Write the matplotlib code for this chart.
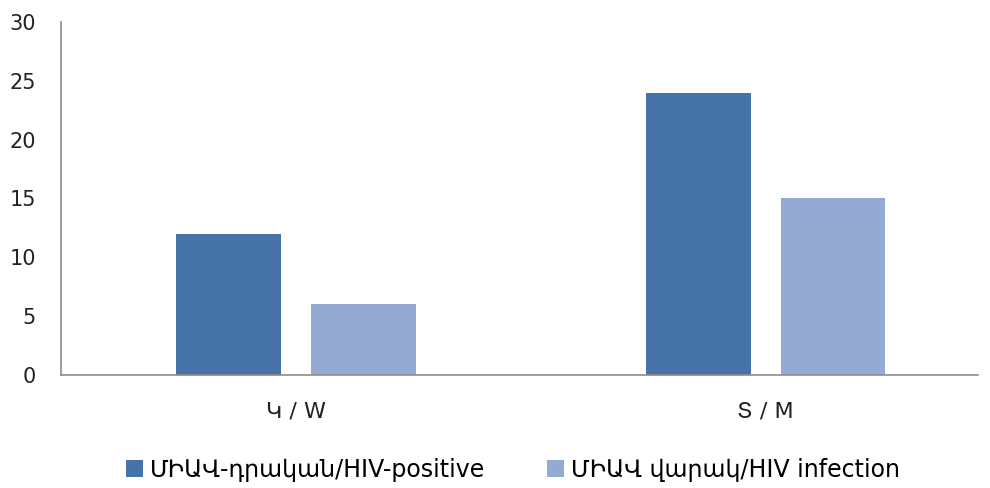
import matplotlib.pyplot as plt
import numpy as np

categories = ["Կ / W", "Տ / M"]
series_names = ["ՄԻԱՎ-դրական/HIV-positive", "ՄԻԱՎ վարակ/HIV infection"]
hiv_positive = [12, 24]
hiv_infection = [6, 15]

colors = ["#4674A8", "#94AAD2"]
axis_gray = "#8C8C8C"

plt.rcParams["font.family"] = ["DejaVu Sans"]

fig = plt.figure(figsize=(9.9, 4.88), dpi=100)
ax = fig.add_axes([0.0616, 0.2316, 0.926, 0.7234])

x = np.arange(len(categories))
w = 0.223
off = 0.143
b1 = ax.bar(x - off, hiv_positive, w, color=colors[0], label=series_names[0])
b2 = ax.bar(x + off, hiv_infection, w, color=colors[1], label=series_names[1])

ax.set_xlim(-0.5, 1.451)
ax.set_ylim(0, 30)
ax.set_yticks(range(0, 31, 5))
ax.set_xticks(x)
ax.set_xticklabels(categories)
ax.tick_params(axis="both", length=0, colors="#222222")
ax.tick_params(axis="y", pad=18, labelsize=15)
ax.tick_params(axis="x", pad=19, labelsize=16)

for side in ["top", "right"]:
    ax.spines[side].set_visible(False)
for side in ["left", "bottom"]:
    ax.spines[side].set_color(axis_gray)
    ax.spines[side].set_linewidth(1.2)

fig.legend(handles=[b1, b2], loc="center", bbox_to_anchor=(0.518, 0.037),
           ncol=2, frameon=False, fontsize=17, handlelength=0.72,
           handleheight=0.72, handletextpad=0.3, columnspacing=2.6,
           borderpad=0, borderaxespad=0)

fig.savefig("out.png", dpi=100)
